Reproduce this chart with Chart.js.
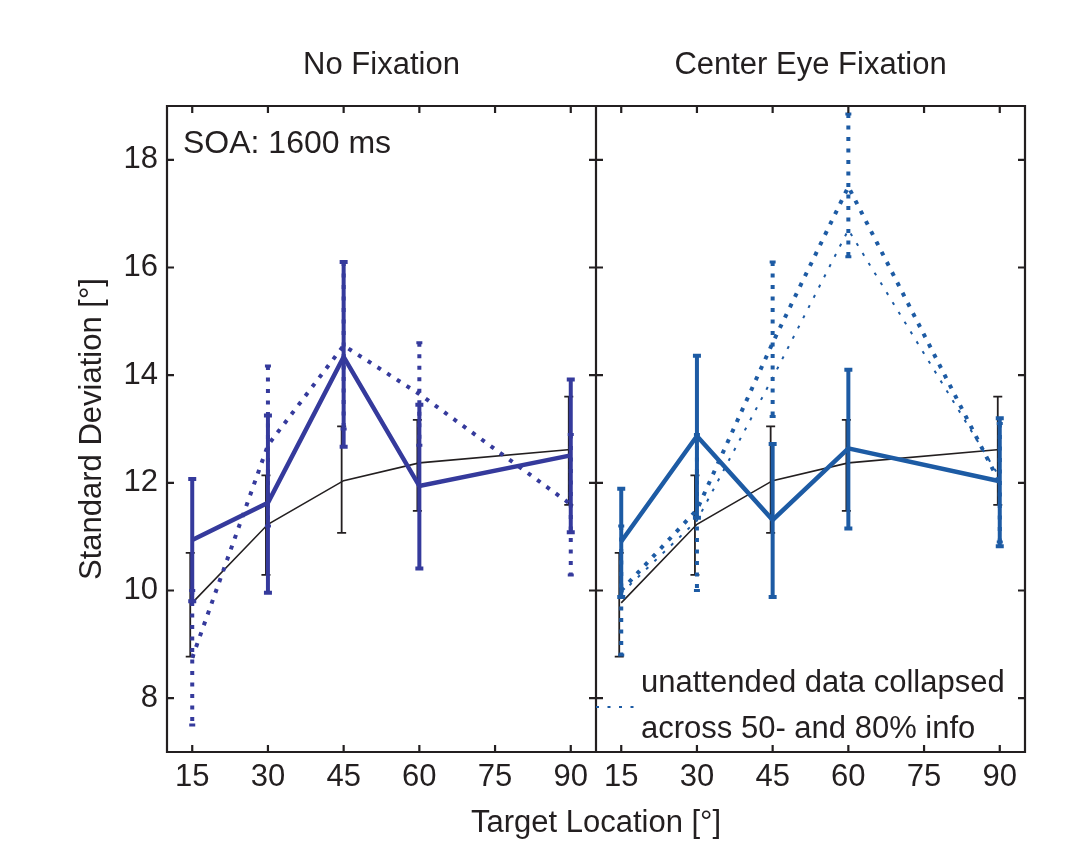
<!DOCTYPE html>
<html>
<head>
<meta charset="utf-8">
<script src="https://cdn.jsdelivr.net/npm/chart.js@4.4.1/dist/chart.umd.min.js"></script>
<style>
  html, body { margin: 0; padding: 0; background: #fff; }
  #wrap { width: 1070px; height: 842px; }
</style>
</head>
<body>
<div id="wrap"><canvas id="sdChart" width="1070" height="842"></canvas></div>
<script>
const LOCATIONS = [15, 30, 45, 60, 90];
const X_TICKS = [15, 30, 45, 60, 75, 90];
const Y_TICKS = [8, 10, 12, 14, 16, 18];
const PANEL_TITLES = ['No Fixation', 'Center Eye Fixation'];
const X_MIN = 10;
const PANEL_SPAN = 85; // each panel runs 10..95 deg, right one shifted by this

// black reference curve (same in both panels)
const refMean = [9.77, 11.23, 12.04, 12.37, 12.62];
const refLo   = [8.77, 10.29, 11.07, 11.48, 11.59];
const refHi   = [10.70, 12.14, 13.05, 13.17, 13.60];

// No Fixation
const noFixAtt   = [10.94, 11.63, 14.34, 11.94, 12.51];
const noFixAttLo = [9.80, 9.96, 12.67, 10.41, 11.08];
const noFixAttHi = [12.07, 13.25, 16.10, 13.45, 13.92];
const noFixUna   = [8.75, 12.70, 14.55, 13.65, 11.60];
const noFixUnaLo = [7.50, 11.20, 13.00, 12.70, 10.29];
const noFixUnaHi = [10.00, 14.17, 16.10, 14.60, 12.90];

// Center Eye Fixation
const centerAtt   = [10.91, 12.87, 11.31, 12.64, 12.03];
const centerAttLo = [9.88, 11.35, 9.88, 11.15, 10.82];
const centerAttHi = [11.89, 14.36, 12.72, 14.10, 13.20];
const centerUna   = [10.00, 11.50, 14.60, 17.50, 12.00];
const centerUnaLo = [8.80, 10.00, 13.23, 16.20, 10.90];
const centerUnaHi = [11.20, 12.90, 16.10, 18.85, 13.10];
const centerCollapsed = [9.95, 11.30, 13.95, 16.70, 12.10];

const INK = '#231f20';
const NOFIX_COLOR = '#353a9c';
const CENTER_COLOR = '#1d5ba4';
const THICK_DOT = [4, 7.5];
const THIN_DOT = [3, 8.5];

Chart.defaults.font.family = '"Liberation Sans", Arial, sans-serif';
Chart.defaults.font.size = 31;
Chart.defaults.color = INK;

function series(values, panel, style) {
    return Object.assign({
        data: LOCATIONS.map((x, i) => ({ x: x + panel * PANEL_SPAN, y: values[i] })),
        pointRadius: 0,
        fill: false,
        tension: 0,
        borderCapStyle: 'butt'
    }, style);
}

// black bars sit a hair left of the coloured ones in the original
const refStyle = { borderColor: INK, borderWidth: 1.6, errLo: refLo, errHi: refHi, errWidth: 1.8, capW: 9, capH: 1.8, errShift: -2 };

// error bars drawn right after their own line, from the same scales
const errorBars = {
    id: 'errorBars',
    afterDatasetDraw(chart, args) {
        const ds = chart.data.datasets[args.index];
        if (!ds.errLo) return;
        const { ctx, chartArea, scales: { x, y } } = chart;
        ctx.save();
        ctx.beginPath();
        ctx.rect(chartArea.left, chartArea.top, chartArea.width, chartArea.height);
        ctx.clip();
        ctx.strokeStyle = ds.borderColor;
        ds.data.forEach((pt, i) => {
            const px = x.getPixelForValue(pt.x) + (ds.errShift || 0);
            const yLo = y.getPixelForValue(ds.errLo[i]);
            const yHi = y.getPixelForValue(ds.errHi[i]);
            ctx.setLineDash(ds.borderDash || []);
            ctx.lineWidth = ds.errWidth;
            ctx.beginPath();
            ctx.moveTo(px, yHi);
            ctx.lineTo(px, yLo);
            ctx.stroke();
            ctx.setLineDash([]);
            ctx.lineWidth = ds.capH;
            ctx.beginPath();
            [yLo, yHi].forEach(py => {
                ctx.moveTo(px - ds.capW / 2, py);
                ctx.lineTo(px + ds.capW / 2, py);
            });
            ctx.stroke();
        });
        ctx.restore();
    }
};

// MATLAB style boxes with inward ticks, plus the in-plot notes
const panelFrames = {
    id: 'panelFrames',
    afterDraw(chart) {
        const { ctx, chartArea: ca, scales: { x, y } } = chart;
        ctx.save();
        ctx.strokeStyle = INK;
        ctx.lineWidth = 2.2;
        ctx.beginPath();
        for (let p = 0; p < 2; p++) {
            const left = x.getPixelForValue(X_MIN + p * PANEL_SPAN);
            const right = x.getPixelForValue(X_MIN + (p + 1) * PANEL_SPAN);
            ctx.rect(left, ca.top, right - left, ca.bottom - ca.top);
            X_TICKS.forEach(v => {
                const px = x.getPixelForValue(v + p * PANEL_SPAN);
                ctx.moveTo(px, ca.bottom); ctx.lineTo(px, ca.bottom - 7);
                ctx.moveTo(px, ca.top); ctx.lineTo(px, ca.top + 7);
            });
            Y_TICKS.forEach(v => {
                const py = y.getPixelForValue(v);
                ctx.moveTo(left, py); ctx.lineTo(left + 7, py);
                ctx.moveTo(right, py); ctx.lineTo(right - 7, py);
            });
        }
        ctx.stroke();

        ctx.fillStyle = INK;
        ctx.textBaseline = 'alphabetic';
        ctx.textAlign = 'left';
        ctx.font = '32px "Liberation Sans", Arial, sans-serif';
        ctx.fillText('SOA: 1600 ms', ca.left + 16, ca.top + 47);

        const divider = x.getPixelForValue(X_MIN + PANEL_SPAN);
        ctx.font = '31px "Liberation Sans", Arial, sans-serif';
        ctx.fillText('unattended data collapsed', divider + 45, ca.bottom - 60);
        ctx.fillText('across 50- and 80% info', divider + 45, ca.bottom - 14);
        ctx.strokeStyle = CENTER_COLOR;
        ctx.lineWidth = 2;
        ctx.setLineDash(THIN_DOT);
        ctx.beginPath();
        ctx.moveTo(divider, ca.bottom - 45);
        ctx.lineTo(divider + 38, ca.bottom - 45);
        ctx.stroke();
        ctx.restore();
    }
};

new Chart(document.getElementById('sdChart'), {
    type: 'line',
    data: {
        // first dataset ends up on top
        datasets: [
            series(noFixAtt, 0, { borderColor: NOFIX_COLOR, borderWidth: 4.5, errLo: noFixAttLo, errHi: noFixAttHi, errWidth: 4, capW: 8, capH: 4 }),
            series(centerAtt, 1, { borderColor: CENTER_COLOR, borderWidth: 4.5, errLo: centerAttLo, errHi: centerAttHi, errWidth: 4, capW: 8, capH: 4 }),
            series(noFixUna, 0, { borderColor: NOFIX_COLOR, borderWidth: 4, borderDash: THICK_DOT, errLo: noFixUnaLo, errHi: noFixUnaHi, errWidth: 4, capW: 6, capH: 3 }),
            series(centerUna, 1, { borderColor: CENTER_COLOR, borderWidth: 4, borderDash: THICK_DOT, errLo: centerUnaLo, errHi: centerUnaHi, errWidth: 4, capW: 6, capH: 3 }),
            series(centerCollapsed, 1, { borderColor: CENTER_COLOR, borderWidth: 2, borderDash: THIN_DOT }),
            series(refMean, 0, refStyle),
            series(refMean, 1, refStyle)
        ]
    },
    options: {
        responsive: false,
        animation: false,
        events: [],
        layout: { padding: { left: 70, right: 45, top: 0, bottom: 0 } },
        plugins: { legend: { display: false }, tooltip: { enabled: false } },
        scales: {
            x: {
                type: 'linear',
                position: 'bottom',
                min: X_MIN,
                max: X_MIN + 2 * PANEL_SPAN,
                afterBuildTicks: s => {
                    s.ticks = X_TICKS.concat(X_TICKS.map(v => v + PANEL_SPAN)).map(v => ({ value: v }));
                },
                afterFit: s => { s.height = 90; },
                ticks: {
                    autoSkip: false, maxRotation: 0, padding: 7,
                    callback: v => (v > X_MIN + PANEL_SPAN ? v - PANEL_SPAN : v)
                },
                grid: { display: false, drawTicks: false },
                border: { display: false },
                title: { display: true, text: 'Target Location [°]', padding: { top: 0, bottom: 0 } }
            },
            panels: {
                type: 'linear',
                position: 'top',
                min: X_MIN,
                max: X_MIN + 2 * PANEL_SPAN,
                afterBuildTicks: s => {
                    s.ticks = [X_MIN + PANEL_SPAN / 2, X_MIN + 1.5 * PANEL_SPAN].map(v => ({ value: v }));
                },
                afterFit: s => { s.height = 106; },
                ticks: { autoSkip: false, maxRotation: 0, padding: 22, callback: (v, i) => PANEL_TITLES[i] },
                grid: { display: false, drawTicks: false },
                border: { display: false }
            },
            y: {
                type: 'linear',
                min: 7,
                max: 19,
                afterBuildTicks: s => { s.ticks = Y_TICKS.map(v => ({ value: v })); },
                afterFit: s => { s.width = 97; },
                ticks: { padding: 9 },
                grid: { display: false, drawTicks: false },
                border: { display: false },
                title: { display: true, text: 'Standard Deviation [°]', padding: { top: 4, bottom: 0 } }
            }
        }
    },
    plugins: [errorBars, panelFrames]
});
</script>
</body>
</html>
